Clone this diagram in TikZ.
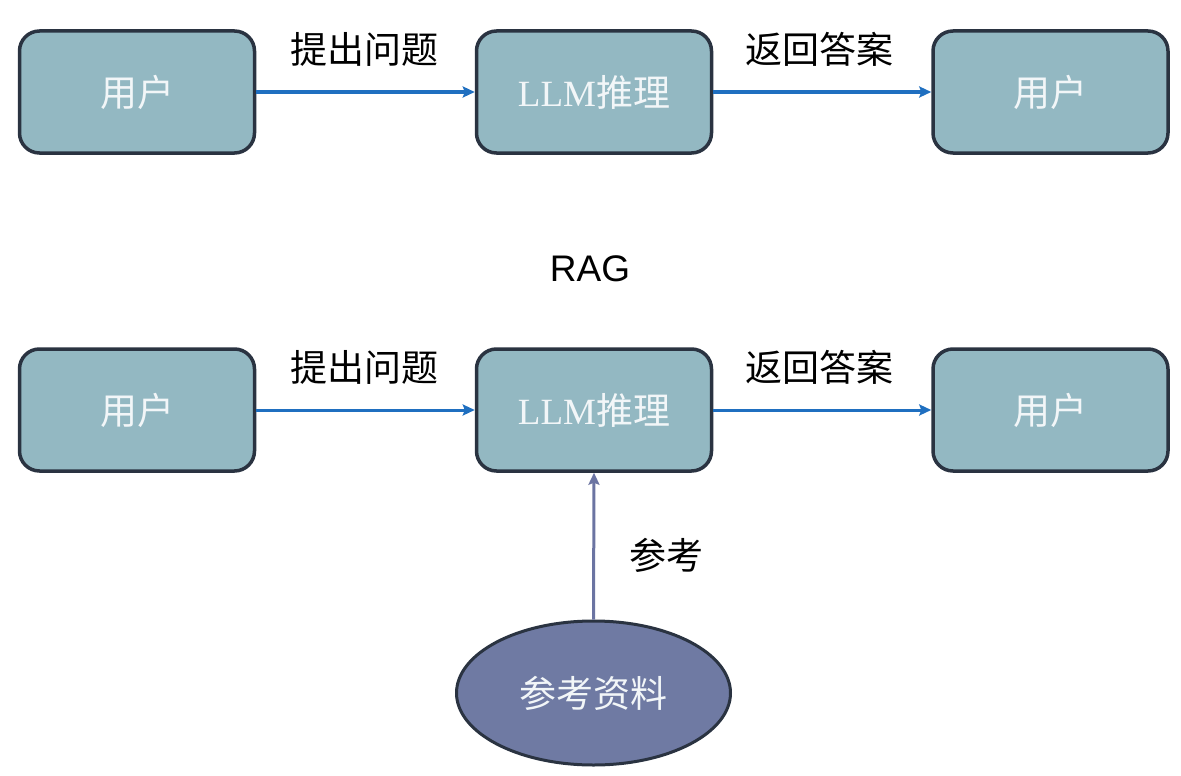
\documentclass[tikz,border=0pt]{standalone}
\usepackage{fontspec}
\setmainfont{Liberation Serif}
\newfontfamily\cjk{Noto Sans CJK SC}
\newfontfamily\arialf{Liberation Sans}
\usetikzlibrary{arrows.meta,shapes.geometric}
\definecolor{boxfill}{HTML}{93B8C2}
\definecolor{boxline}{HTML}{2A3341}
\definecolor{ellfill}{HTML}{6F7AA3}
\definecolor{arrblue}{HTML}{1F6FC0}
\definecolor{arrpurple}{HTML}{6B74A2}
\definecolor{boxtext}{HTML}{F2F6F8}
\tikzset{
  boxnode/.style={draw=boxline, line width=3.5pt, fill=boxfill, rounded corners=20pt,
    minimum width=235pt, minimum height=122pt, inner sep=0pt,
    text=boxtext, font=\fontsize{37}{40}\selectfont},
  ellnode/.style={ellipse, draw=boxline, line width=3pt, fill=ellfill,
    minimum width=274pt, minimum height=144pt, inner sep=0pt,
    text=boxtext, font=\fontsize{37}{40}\cjk},
  lbl/.style={inner sep=0pt, text=black, font=\fontsize{37}{40}\cjk},
  bluearrow/.style={draw=arrblue, line width=3pt, -{Stealth[length=12pt,width=11pt,inset=2pt]}},
  purplearrow/.style={draw=arrpurple, line width=3pt, -{Stealth[length=12pt,width=11pt,inset=2pt]}}
}
\begin{document}
\begin{tikzpicture}[x=1pt,y=-1pt]
\useasboundingbox (0,0) rectangle (1181,776);
% top row
\node[boxnode] (u1) at (137,92) {\cjk 用户};
\node[boxnode] (l1) at (594,92) {LLM{\cjk 推理}};
\node[boxnode] (u2) at (1050.5,92) {\cjk 用户};
\draw[bluearrow] (u1.east) -- (l1.west);
\draw[bluearrow] (l1.east) -- (u2.west);
\node[lbl] (q1) at (364,49) {提出问题};
\node[lbl] (a1) at (819,49) {返回答案};
% title
\node[inner sep=0pt, font=\fontsize{37}{40}\arialf] (rag) at (590,269) {RAG};
% bottom row
\node[boxnode] (u3) at (137,410) {\cjk 用户};
\node[boxnode] (l2) at (594,410) {LLM{\cjk 推理}};
\node[boxnode] (u4) at (1050.5,410) {\cjk 用户};
\draw[bluearrow] (u3.east) -- (l2.west);
\draw[bluearrow] (l2.east) -- (u4.west);
\node[lbl] (q2) at (364,367) {提出问题};
\node[lbl] (a2) at (819,367) {返回答案};
% reference
\node[ellnode] (ref) at (593.5,693) {参考资料};
\draw[purplearrow] (ref.north) -- (l2.south);
\node[lbl] (ck) at (666,555) {参考};
\end{tikzpicture}
\end{document}
